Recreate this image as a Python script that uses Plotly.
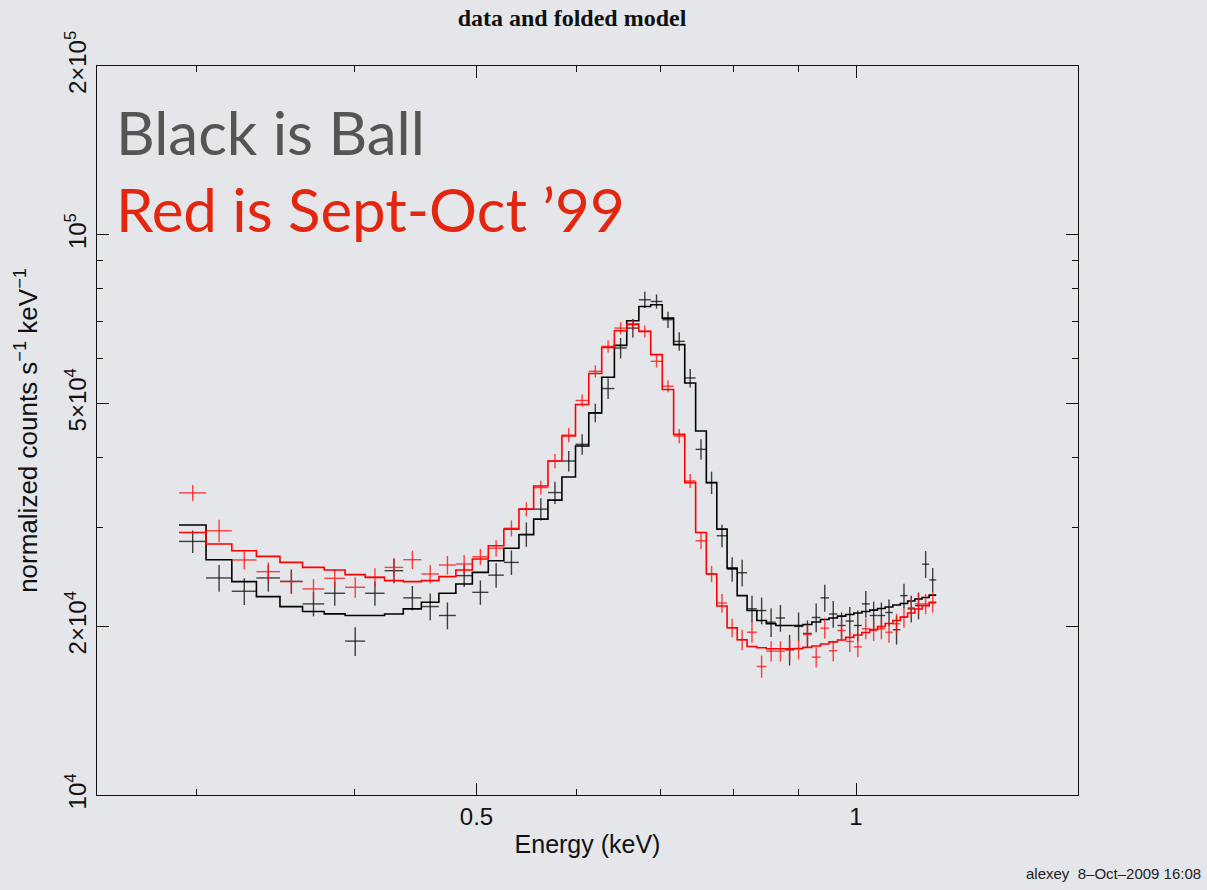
import plotly.graph_objects as go

# Energy grid: lower edges of the 59 channels plus the final upper edge (keV)
bin_edges = [0.2904, 0.3051, 0.3198, 0.3345, 0.3492, 0.3639, 0.3786, 0.3933, 0.4080, 0.4227,
             0.4374, 0.4521, 0.4668, 0.4815, 0.4962, 0.5109, 0.5256, 0.5403, 0.5550, 0.5697,
             0.5844, 0.5991, 0.6138, 0.6285, 0.6432, 0.6579, 0.6726, 0.6873, 0.7020, 0.7167,
             0.7314, 0.7461, 0.7608, 0.7755, 0.7902, 0.8049, 0.8196, 0.8343, 0.8490, 0.8637,
             0.8784, 0.8931, 0.9078, 0.9225, 0.9372, 0.9519, 0.9666, 0.9813, 0.9960, 1.0107,
             1.0254, 1.0401, 1.0548, 1.0695, 1.0842, 1.0989, 1.1136, 1.1283, 1.1430, 1.1577]

# Ball observation (black): measured counts and folded model per channel
ball_counts = [28350, 24400, 23100, 24400, 24060, 21930, 22910, 18820, 22910, 25140,
               22480, 21690, 20910, 24630, 23000, 24680, 26010, 29190, 32370, 34650,
               39450, 42250, 48090, 53140, 62770, 68120, 76530, 76000, 70500, 64510,
               55500, 41390, 36100, 29020, 25290, 24930, 21490, 21340, 20340, 20700,
               18170, 19990, 19420, 20740, 22480, 21040, 20070, 20440, 20070, 21930,
               20910, 20910, 21170, 19720, 22690, 21490, 21780, 25820, 24200]
ball_err_pct = [4.6, 5.5, 5.5, 5.5, 5.0, 5.0, 5.0, 5.9, 5.0, 5.0,
                5.0, 5.5, 5.5, 4.6, 5.0, 5.0, 5.0, 5.0, 4.6, 4.6,
                4.2, 4.2, 3.8, 4.2, 4.2, 3.8, 3.3, 2.9, 3.3, 3.8,
                3.8, 4.2, 4.6, 4.6, 5.0, 5.5, 5.5, 5.5, 5.9, 5.5,
                6.3, 5.9, 5.5, 5.9, 5.5, 5.5, 5.5, 5.9, 6.3, 5.5,
                5.9, 5.5, 5.5, 5.9, 5.0, 5.5, 5.5, 5.5, 5.0]
ball_model = [30320, 26300, 24030, 22600, 21690, 21250, 21050, 20910, 20910, 21040,
              21490, 22080, 22910, 23800, 24960, 26190, 27570, 29130, 31070, 33590,
              36950, 41950, 48090, 55660, 63460, 70210, 74460, 74980, 70970, 63640,
              54370, 44620, 36100, 29820, 25400, 22690, 21340, 20480, 20210, 20070,
              20070, 20070, 20150, 20360, 20570, 20700, 20860, 20990, 21120, 21250,
              21380, 21520, 21650, 21830, 21960, 22190, 22370, 22510, 22740]

# Sept-Oct '99 observation (red)
sept_counts = [34610, 29620, 26270, 25040, 24030, 23320, 24360, 23480, 24460, 25480,
               26300, 24800, 25730, 25840, 26620, 27570, 29920, 32370, 35370, 39450,
               43890, 50590, 57040, 63200, 68120, 69080, 67210, 59430, 53650, 43710,
               36350, 28430, 24800, 22010, 19880, 18930, 19520, 16960, 18060, 18060,
               18170, 18230, 19340, 17620, 19850, 18090, 19660, 18790, 18380, 19800,
               19660, 19800, 19520, 20210, 20760, 21580, 21930, 21930, 22080]
sept_err_pct = [3.3, 4.6, 3.8, 3.8, 4.6, 4.2, 3.8, 4.2, 3.8, 3.8,
                3.8, 3.8, 3.8, 3.8, 3.3, 3.3, 3.3, 2.9, 2.9, 2.9,
                2.9, 2.5, 2.5, 2.5, 2.5, 2.5, 2.5, 2.5, 2.5, 2.9,
                2.9, 3.3, 3.3, 3.8, 3.8, 4.2, 4.2, 4.6, 4.2, 4.2,
                4.2, 4.2, 4.2, 4.2, 4.2, 4.2, 4.2, 4.2, 4.2, 4.2,
                4.2, 4.2, 4.2, 4.2, 4.2, 4.2, 4.2, 4.2, 4.2]
sept_model = [29410, 28050, 27290, 26660, 26010, 25480, 25210, 24730, 24460, 24130,
              24030, 24130, 24530, 25210, 26370, 27850, 29820, 32370, 35610, 39450,
              43710, 49770, 56510, 62940, 67400, 69250, 67210, 61090, 52930, 44010,
              36100, 29410, 24800, 21740, 19880, 18930, 18410, 18310, 18240, 18240,
              18240, 18260, 18340, 18450, 18600, 18760, 18910, 19110, 19300, 19500,
              19740, 19990, 20230, 20480, 20780, 21120, 21470, 21780, 22050]

x_major = [0.5, 1]
x_major_text = ["0.5", "1"]
x_minor = [0.3, 0.4, 0.6, 0.7, 0.8, 0.9]
y_major = [1e4, 2e4, 5e4, 1e5, 2e5]
y_major_text = ["10<sup>4</sup>", "2×10<sup>4</sup>", "5×10<sup>4</sup>",
                "10<sup>5</sup>", "2×10<sup>5</sup>"]
y_minor = [3e4, 4e4, 6e4, 7e4, 8e4, 9e4]

centers = [(a + b) / 2 for a, b in zip(bin_edges[:-1], bin_edges[1:])]
half_widths = [(b - a) / 2 for a, b in zip(bin_edges[:-1], bin_edges[1:])]

BG = "#e4e6ea"
FONT = "Liberation Sans, Arial, sans-serif"

fig = go.Figure()


def add_spectrum(counts, err_pct, model, cross_color, line_color):
    fig.add_trace(go.Scatter(
        x=centers, y=counts, mode="markers",
        marker=dict(size=1, color="rgba(0,0,0,0)"),
        error_x=dict(type="data", array=half_widths, width=0,
                     thickness=1.4, color=cross_color),
        error_y=dict(type="data", array=[c * p / 100 for c, p in zip(counts, err_pct)],
                     width=0, thickness=1.4, color=cross_color),
        showlegend=False, hoverinfo="skip",
    ))
    fig.add_trace(go.Scatter(
        x=bin_edges, y=model + [model[-1]], mode="lines",
        line=dict(color=line_color, width=1.6, shape="hv"),
        showlegend=False, hoverinfo="skip",
    ))


add_spectrum(ball_counts, ball_err_pct, ball_model, "rgba(20,20,20,0.8)", "#000000")
add_spectrum(sept_counts, sept_err_pct, sept_model, "rgba(255,20,20,0.8)", "#ff0000")

axis_common = dict(
    showline=True, linecolor="#111111", linewidth=1.2, mirror="ticks",
    ticks="inside", tickcolor="#111111", tickwidth=1.2, ticklen=12,
    showgrid=False, zeroline=False,
    tickfont=dict(family=FONT, size=24, color="#111111"),
)

fig.update_xaxes(
    type="log", range=[-0.60206, 0.176091],
    tickmode="array", tickvals=x_major, ticktext=x_major_text,
    minor=dict(tickmode="array", tickvals=x_minor, ticks="inside", ticklen=6,
               tickcolor="#111111", tickwidth=1.2, showgrid=False),
    title=dict(text="Energy (keV)", font=dict(family=FONT, size=25, color="#111111"),
               standoff=6),
    **axis_common,
)
fig.update_yaxes(
    type="log", range=[4, 5.30103],
    tickmode="array", tickvals=y_major, ticktext=y_major_text, tickangle=-90,
    minor=dict(tickmode="array", tickvals=y_minor, ticks="inside", ticklen=6,
               tickcolor="#111111", tickwidth=1.2, showgrid=False),
    title=dict(text="normalized counts s<sup>−1</sup> keV<sup>−1</sup>",
               font=dict(family=FONT, size=26, color="#111111"), standoff=16),
    **axis_common,
)

fig.add_annotation(text="Black is Ball", xref="paper", yref="paper",
                   x=0.0173, y=0.9095, xanchor="left", yanchor="middle",
                   showarrow=False,
                   font=dict(family="Lato, sans-serif", size=60, color="#555555"))
fig.add_annotation(text="Red is Sept-Oct ’99", xref="paper", yref="paper",
                   x=0.0173, y=0.8032, xanchor="left", yanchor="middle",
                   showarrow=False,
                   font=dict(family="Lato, sans-serif", size=60, color="#e3260f"))

fig.update_layout(
    width=1207, height=890,
    margin=dict(l=97, r=129, t=66, b=95),
    paper_bgcolor=BG, plot_bgcolor=BG,
    title=dict(text="<b>data and folded model</b>", x=572 / 1207, xanchor="center",
               y=1 - 18 / 890, yanchor="middle",
               font=dict(family="Liberation Serif, Times New Roman, serif", size=24,
                         color="#111111")),
    annotations=list(fig.layout.annotations) + [
        dict(text="alexey  8–Oct–2009 16:08", xref="paper", yref="paper",
             x=(1203 - 97) / 981, y=-(873 - 795) / 729, xanchor="right",
             yanchor="middle", showarrow=False,
             font=dict(family=FONT, size=15, color="#222222"))
    ],
)

fig.write_html("out.html")
